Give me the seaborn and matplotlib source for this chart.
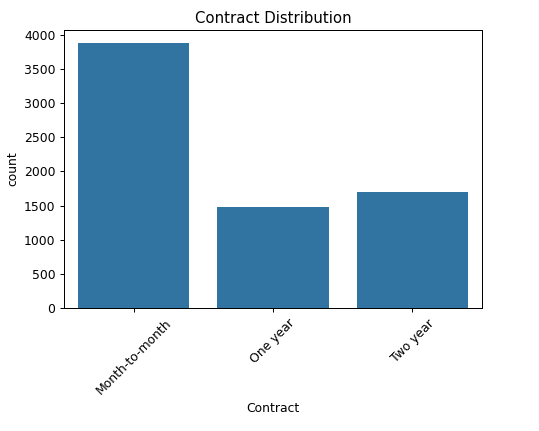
import matplotlib
matplotlib.use("Agg")
import matplotlib.pyplot as plt
import seaborn as sns
import pandas as pd

categories = ["Month-to-month", "One year", "Two year"]
counts = [3875, 1473, 1695]

df = pd.DataFrame({"Contract": categories, "count": counts})

DPI = 89
fig = plt.figure(figsize=(539/DPI, 431/DPI), dpi=DPI)
ax = fig.add_axes([64/539, 1-308/431, (482-64)/539, (308-30)/431])
sns.barplot(data=df, x="Contract", y="count", color="#1f77b4", ax=ax)
ax.set_title("Contract Distribution")
ax.set_xlabel("Contract")
ax.set_ylabel("count")
plt.setp(ax.get_xticklabels(), rotation=45)
fig.savefig("out.png", dpi=DPI)
